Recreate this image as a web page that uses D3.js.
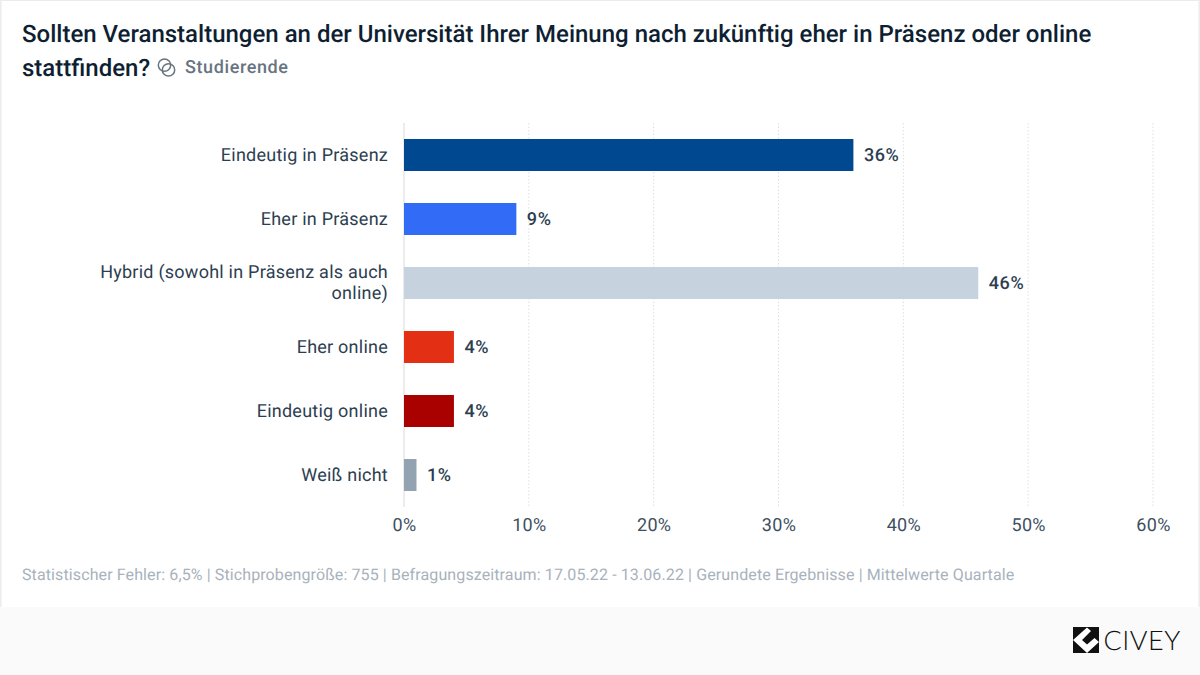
<!DOCTYPE html>
<html>
<head>
<meta charset="utf-8">
<script src="https://cdnjs.cloudflare.com/ajax/libs/d3/7.8.5/d3.min.js"></script>
<style>
  html, body { margin: 0; padding: 0; background: #fff; }
  svg { display: block; font-family: Roboto, sans-serif; text-rendering: geometricPrecision; }
</style>
</head>
<body>
<svg id="chart" width="1200" height="675"></svg>
<script>
const categories = ["Eindeutig in Präsenz", "Eher in Präsenz", "Hybrid (sowohl in Präsenz als auch online)", "Eher online", "Eindeutig online", "Weiß nicht"]
const values = [36, 9, 46, 4, 4, 1]
const barColors = ["#004991", "#316bf6", "#c6d3de", "#e32f14", "#a90000", "#94a3b2"]
const xTicks = [0, 10, 20, 30, 40, 50, 60]
const titleLines = ["Sollten Veranstaltungen an der Universität Ihrer Meinung nach zukünftig eher in Präsenz oder online", "stattfinden?"]
const subgroup = "Studierende"
const footnote = "Statistischer Fehler: 6,5% | Stichprobengröße: 755 | Befragungszeitraum: 17.05.22 - 13.06.22 | Gerundete Ergebnisse | Mittelwerte Quartale"

const svg = d3.select("#chart")

// page frame and footer strip
svg.append("rect").attr("width", 1200).attr("height", 675).attr("fill", "#fff")
svg.append("rect").attr("y", 607).attr("width", 1200).attr("height", 68).attr("fill", "#fafafa")
svg.append("rect").attr("width", 1.5).attr("height", 607).attr("fill", "#ececec")
svg.append("rect").attr("x", 1198.5).attr("width", 1.5).attr("height", 607).attr("fill", "#ececec")
svg.append("rect").attr("width", 1200).attr("height", 1).attr("fill", "#ececec")

const xScale = d3.scaleLinear().domain([0, 60]).range([404, 1153])
const yScale = d3.scaleBand().domain(categories).range([123, 507]).paddingInner(0.5).paddingOuter(0.25)

// title
const title = svg.append("g").attr("fill", "#0f1f33").attr("font-size", 24).attr("font-weight", 500)
titleLines.forEach((line, i) => {
  title.append("text").attr("x", 22).attr("y", 42 + i * 34).text(line)
})

// "other poll group" icon, two overlapping circles
const icon = svg.append("g").attr("transform", "translate(166.5,67.5)").attr("fill", "none").attr("stroke", "#68747f").attr("stroke-width", 1.5)
icon.append("circle").attr("cx", -2).attr("cy", -2.4).attr("r", 6.2)
icon.append("circle").attr("cx", 2).attr("cy", 2.4).attr("r", 6.2)

svg.append("text").attr("x", 185).attr("y", 73).attr("fill", "#68747f")
  .attr("font-size", 18).attr("letter-spacing", 0.6).attr("font-weight", 500).text(subgroup)

// grid
svg.append("g").selectAll("line").data(xTicks.slice(1)).join("line")
  .attr("x1", d => xScale(d)).attr("x2", d => xScale(d))
  .attr("y1", 123).attr("y2", 507)
  .attr("stroke", "#dcdfe2").attr("stroke-width", 1).attr("stroke-dasharray", "1.5 2")

svg.append("line").attr("x1", xScale(0)).attr("x2", xScale(0)).attr("y1", 123).attr("y2", 507)
  .attr("stroke", "#e6e6e6").attr("stroke-width", 1.5)

// bars
svg.append("g").selectAll("rect").data(categories).join("rect")
  .attr("x", xScale(0))
  .attr("y", d => yScale(d))
  .attr("width", (d, i) => xScale(values[i]) - xScale(0))
  .attr("height", yScale.bandwidth())
  .attr("fill", (d, i) => barColors[i])

// value labels
svg.append("g").selectAll("text").data(categories).join("text")
  .attr("x", (d, i) => xScale(values[i]) + 10.5)
  .attr("y", d => yScale(d) + yScale.bandwidth() / 2 + 5.5)
  .attr("fill", "#2c3e50")
  .attr("font-size", 18)
  .attr("letter-spacing", 0.6)
  .attr("font-weight", 500)
  .text((d, i) => values[i] + "%")

// category labels, the long one wraps on two lines
const wrapped = { "Hybrid (sowohl in Präsenz als auch online)": ["Hybrid (sowohl in Präsenz als auch", "online)"] }
const catLabels = svg.append("g").attr("fill", "#2c3e50").attr("font-size", 18).attr("letter-spacing", 0.24).attr("text-anchor", "end")
categories.forEach(cat => {
  const lines = wrapped[cat] || [cat]
  const mid = yScale(cat) + yScale.bandwidth() / 2
  lines.forEach((line, i) => {
    catLabels.append("text")
      .attr("x", 388)
      .attr("y", mid + 5.5 + (i - (lines.length - 1) / 2) * 20.5)
      .text(line)
  })
})

// x axis
const xAxis = d3.axisBottom(xScale).tickValues(xTicks).tickFormat(d => d + "%").tickSize(0).tickPadding(0)
const axisG = svg.append("g").attr("transform", "translate(0,530.5)").call(xAxis)
axisG.select(".domain").remove()
axisG.selectAll("text").attr("dy", 0).attr("fill", "#3e4f60").attr("font-size", 18).attr("letter-spacing", 0.3).attr("font-family", "Roboto, sans-serif")

// footnote
svg.append("text").attr("x", 22).attr("y", 580).attr("fill", "#a8b2bb").attr("font-size", 16).attr("letter-spacing", 0.11).text(footnote)

// logo
const logo = svg.append("g").attr("transform", "translate(1073,627)")
logo.append("rect").attr("width", 26).attr("height", 26).attr("fill", "#111")
logo.append("path").attr("d", "M0 13 L14 0.5 L18 4 L9 13 L14 17.5 L21.5 11 L26 15 L14 26 Z").attr("fill", "#fff")
svg.append("text").attr("x", 1103.5).attr("y", 650).attr("fill", "#111").attr("font-size", 27).attr("letter-spacing", 0.5).attr("font-weight", 300).attr("font-family", "Lato, sans-serif").text("CIVEY")
</script>
</body>
</html>
